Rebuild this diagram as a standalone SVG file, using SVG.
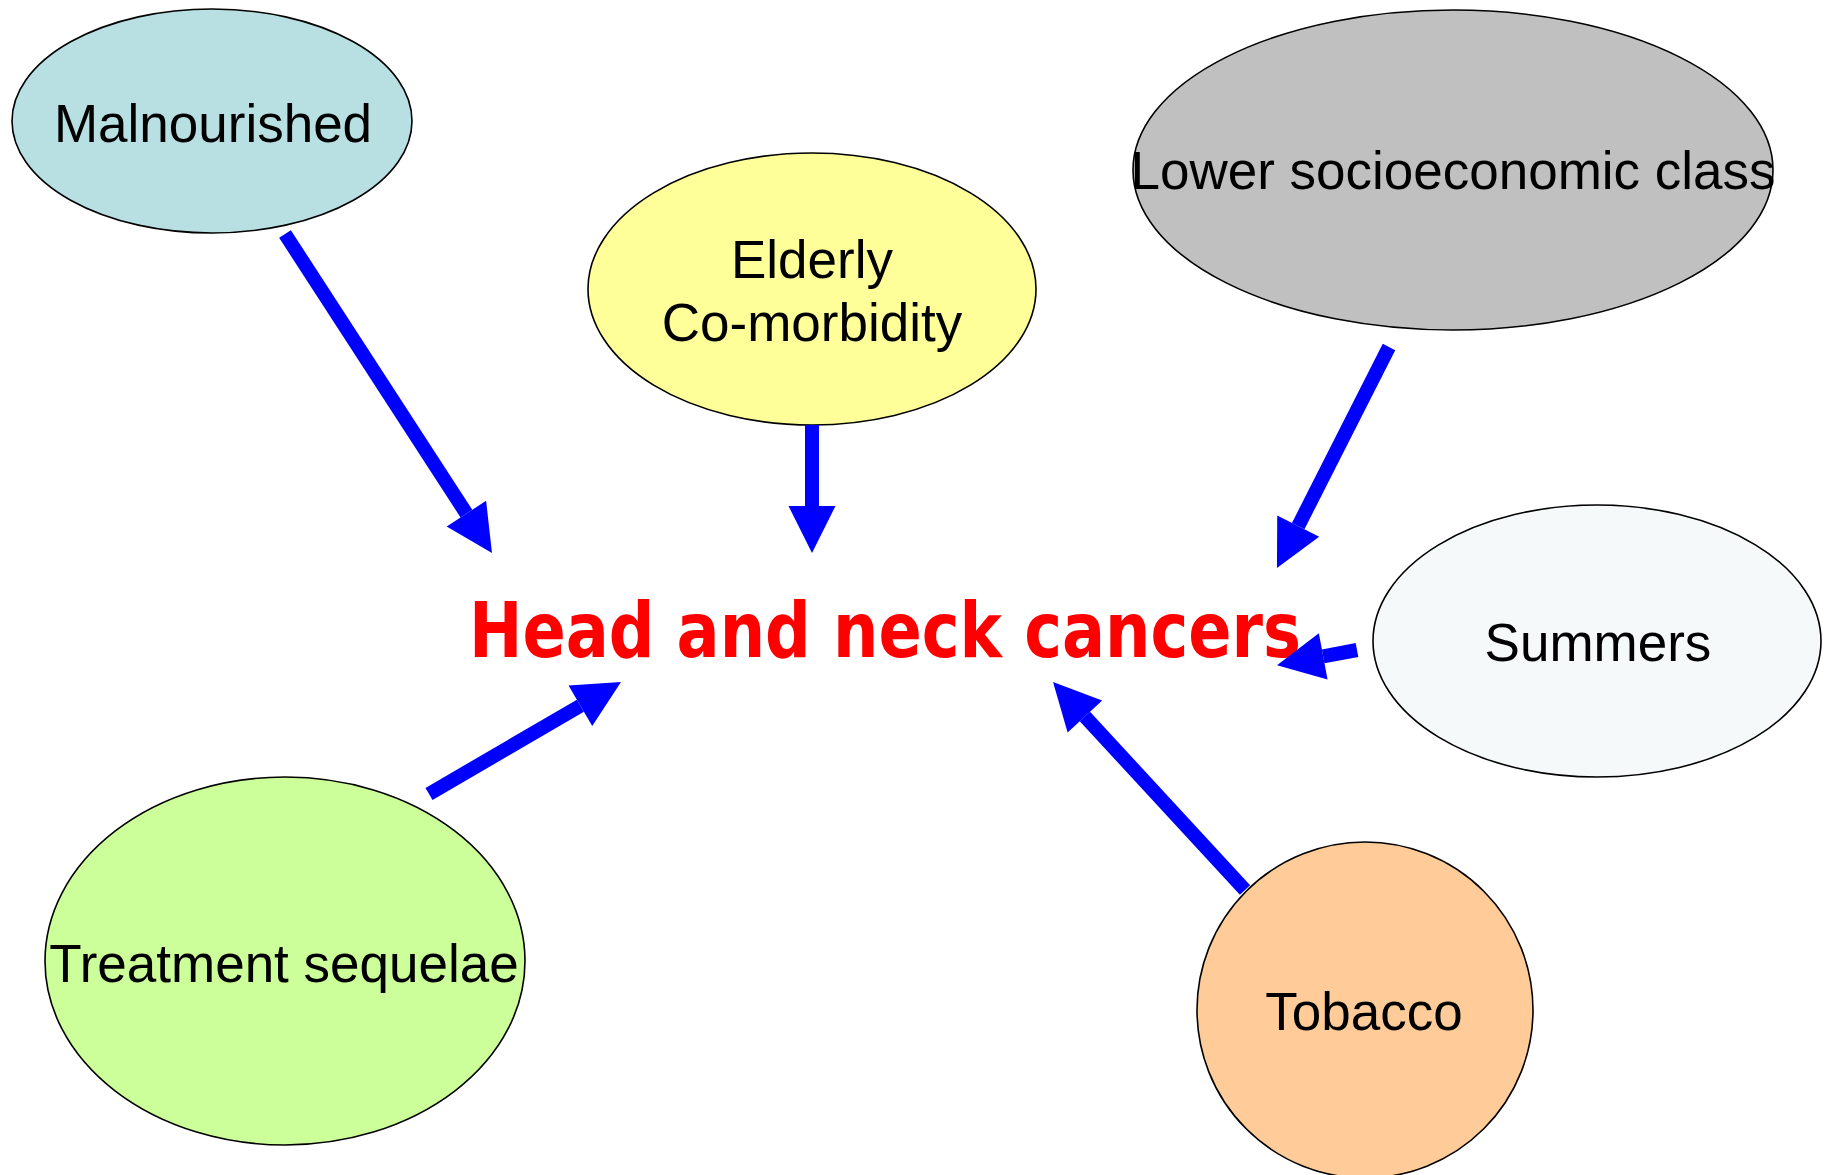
<svg xmlns="http://www.w3.org/2000/svg" width="1825" height="1175" viewBox="0 0 1825 1175">
  <style>
    .node ellipse { stroke: #000000; stroke-width: 1.6; }
    .label { font-family: "Liberation Sans", Arial, sans-serif; font-size: 53px; fill: #000000; text-anchor: middle; }
    .title { font-family: "Comic Sans MS", "DejaVu Sans", sans-serif; font-weight: bold; font-size: 76px; fill: #FF0000; }
    .link { stroke: #0000FF; stroke-width: 14; fill: none; marker-end: url(#head); }
  </style>
  <defs>
    <!-- arrowhead: base sits on the line end, tip 47px beyond -->
    <marker id="head" markerUnits="userSpaceOnUse" markerWidth="48" markerHeight="48" refX="0" refY="23.5" orient="auto" overflow="visible">
      <path d="M0,0 L47,23.5 L0,47 Z" fill="#0000FF"/>
    </marker>
  </defs>

  <rect width="1825" height="1175" fill="#FFFFFF"/>

  <g id="node-malnourished" class="node">
    <ellipse cx="212" cy="121" rx="200" ry="112" fill="#B8DFE2"/>
    <text class="label" x="213" y="142">Malnourished</text>
  </g>

  <g id="node-elderly" class="node">
    <ellipse cx="812" cy="289" rx="224" ry="136" fill="#FFFF99"/>
    <text class="label" x="812" y="278">Elderly</text>
    <text class="label" x="812" y="341">Co-morbidity</text>
  </g>

  <g id="node-lower-class" class="node">
    <ellipse cx="1453" cy="170" rx="320" ry="160" fill="#C0C0C0"/>
    <text class="label" x="1453" y="189">Lower socioeconomic class</text>
  </g>

  <g id="node-summers" class="node">
    <ellipse cx="1597" cy="641" rx="224" ry="136" fill="#F5F9FA"/>
    <text class="label" x="1598" y="661">Summers</text>
  </g>

  <g id="node-treatment" class="node">
    <ellipse cx="285" cy="961" rx="240" ry="184" fill="#CCFF99"/>
    <text class="label" x="284" y="982">Treatment sequelae</text>
  </g>

  <g id="node-tobacco" class="node">
    <ellipse cx="1365" cy="1010" rx="168" ry="168" fill="#FFCC99"/>
    <text class="label" x="1364" y="1030">Tobacco</text>
  </g>

  <g id="node-center">
    <text class="title" x="469" y="657" textLength="832" lengthAdjust="spacingAndGlyphs">Head and neck cancers</text>
  </g>

  <g id="connectors">
    <line class="link" x1="285" y1="234" x2="466.4" y2="513.6"/>
    <line class="link" x1="812" y1="425" x2="812" y2="506"/>
    <line class="link" x1="1389" y1="347" x2="1298.2" y2="526.1"/>
    <line class="link" x1="1357" y1="650" x2="1323.2" y2="656.4"/>
    <line class="link" x1="1245" y1="890" x2="1084.9" y2="716.5"/>
    <line class="link" x1="429" y1="794" x2="580.4" y2="705.7"/>
  </g>
</svg>
